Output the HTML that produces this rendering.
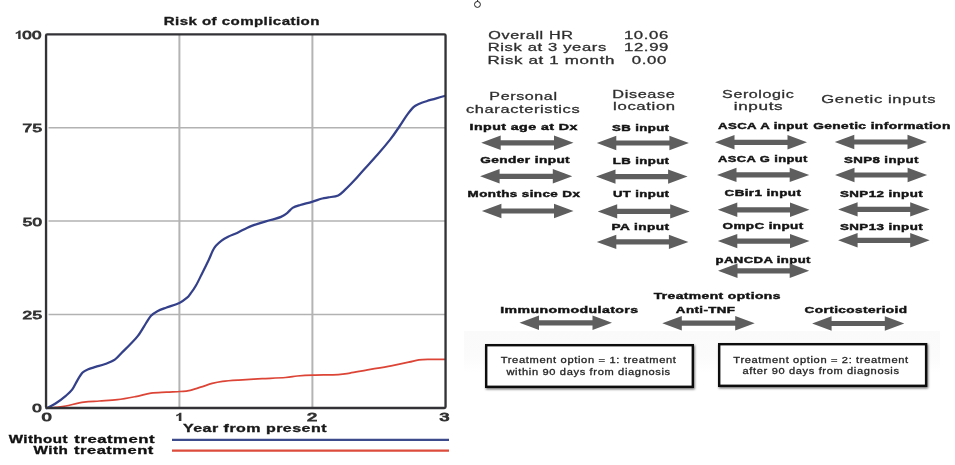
<!DOCTYPE html>
<html><head><meta charset="utf-8"><title>Risk of complication</title>
<style>
html,body{margin:0;padding:0;background:#fff;}
body{width:955px;height:465px;overflow:hidden;font-family:"Liberation Sans",sans-serif;}
svg{display:block;filter:blur(0.5px);font-family:"Liberation Sans",sans-serif;}
</style></head><body>
<svg width="955" height="465" viewBox="0 0 955 465">
<defs>
<linearGradient id="band" x1="0" y1="0" x2="0" y2="1"><stop offset="0" stop-color="#fafafa"/><stop offset="0.6" stop-color="#fbfbfb"/><stop offset="1" stop-color="#ffffff"/></linearGradient>
<filter id="sh" x="-5%" y="-15%" width="112%" height="135%"><feDropShadow dx="0.8" dy="1.3" stdDeviation="1.1" flood-color="#000" flood-opacity="0.6"/></filter>
</defs>
<rect width="955" height="465" fill="#fff"/>
<rect x="464" y="331" width="476" height="42" fill="url(#band)"/>
<line x1="179.4" y1="34.4" x2="179.4" y2="408" stroke="#b4b4b4" stroke-width="2"/>
<line x1="312.4" y1="34.4" x2="312.4" y2="408" stroke="#b4b4b4" stroke-width="2"/>
<line x1="48.5" y1="127.7" x2="445" y2="127.7" stroke="#b2b2b2" stroke-width="1.5"/>
<line x1="48.5" y1="221.0" x2="445" y2="221.0" stroke="#b2b2b2" stroke-width="1.5"/>
<line x1="48.5" y1="314.5" x2="445" y2="314.5" stroke="#b2b2b2" stroke-width="1.5"/>
<path d="M47.0,408.2 C48.5,408.1 52.9,407.7 56.0,407.3 C59.1,406.9 61.1,406.9 65.8,406.0 C70.5,405.1 78.3,402.9 83.9,402.1 C89.5,401.3 93.8,401.4 99.4,401.0 C105.0,400.6 111.4,400.4 117.4,399.7 C123.4,399.0 129.9,397.7 135.5,396.6 C141.1,395.5 145.8,393.9 151.0,393.2 C156.2,392.5 161.7,392.5 166.5,392.2 C171.3,391.9 176.3,391.8 180.0,391.5 C183.7,391.2 185.4,391.4 188.8,390.7 C192.2,390.0 196.6,388.4 200.5,387.2 C204.4,386.0 208.5,384.4 212.2,383.4 C215.9,382.4 218.1,381.9 222.5,381.3 C226.9,380.8 232.0,380.5 238.6,380.1 C245.2,379.7 254.3,379.1 262.1,378.7 C269.9,378.3 279.6,377.9 285.5,377.5 C291.4,377.1 292.7,376.4 297.3,376.0 C301.9,375.6 306.6,375.3 313.4,375.1 C320.2,374.9 332.2,374.9 338.3,374.6 C344.4,374.3 345.1,373.9 350.0,373.1 C354.9,372.3 360.8,371.1 367.6,369.9 C374.5,368.7 384.2,367.1 391.1,365.8 C398.0,364.5 404.1,363.2 408.7,362.2 C413.3,361.2 415.5,360.4 418.9,359.9 C422.3,359.4 424.8,359.4 429.2,359.3 C433.6,359.2 442.4,359.3 445.0,359.3" fill="none" stroke="#dc4436" stroke-width="1.75" stroke-linejoin="round" stroke-linecap="round"/>
<path d="M46.5,408.3 C48.0,407.5 52.3,405.6 55.5,403.5 C58.7,401.4 63.0,398.2 65.8,395.8 C68.6,393.4 70.4,392.0 72.3,389.4 C74.2,386.8 75.7,383.1 77.4,380.3 C79.1,377.5 80.9,374.4 82.6,372.6 C84.3,370.8 85.5,370.4 87.7,369.5 C89.9,368.6 92.7,367.8 95.5,366.9 C98.3,366.0 101.3,365.5 104.5,364.3 C107.7,363.1 111.8,361.8 114.8,359.7 C117.8,357.6 120.0,354.5 122.6,351.9 C125.2,349.3 127.7,346.9 130.3,344.2 C132.9,341.5 135.5,339.1 138.1,335.6 C140.7,332.2 143.7,326.8 145.8,323.5 C148.0,320.2 149.1,317.9 151.0,315.8 C152.9,313.8 154.8,312.6 157.4,311.2 C160.0,309.8 162.8,308.9 166.5,307.5 C170.2,306.1 176.0,304.5 179.4,302.9 C182.8,301.3 185.2,299.3 187.1,297.7 C189.0,296.1 189.1,295.5 190.6,293.5 C192.1,291.5 193.9,289.2 195.8,285.8 C197.8,282.4 200.2,277.2 202.3,272.9 C204.5,268.6 207.0,263.6 208.7,260.0 C210.4,256.4 211.4,253.4 212.6,251.0 C213.8,248.6 214.4,247.5 215.9,245.8 C217.4,244.1 219.6,242.1 221.6,240.6 C223.6,239.1 225.5,238.1 228.1,236.8 C230.7,235.5 233.9,234.4 237.1,232.9 C240.3,231.4 244.0,229.2 247.4,227.7 C250.8,226.2 253.8,225.2 257.7,223.9 C261.6,222.6 266.7,221.2 270.6,220.0 C274.5,218.8 278.2,218.1 281.0,216.9 C283.8,215.7 285.5,214.3 287.4,212.8 C289.3,211.3 290.5,209.2 292.6,207.9 C294.8,206.6 297.1,206.0 300.3,205.0 C303.5,204.0 308.2,203.0 311.9,201.9 C315.6,200.8 319.6,199.2 322.3,198.5 C325.1,197.8 325.8,197.9 328.4,197.4 C331.0,196.9 335.4,196.7 338.2,195.4 C341.0,194.1 342.5,192.2 345.2,189.7 C347.9,187.2 351.0,184.0 354.2,180.6 C357.4,177.2 360.6,173.3 364.5,169.0 C368.4,164.7 373.1,159.7 377.4,154.8 C381.7,149.9 386.6,144.1 390.3,139.4 C394.0,134.7 396.6,130.6 399.4,126.5 C402.2,122.4 404.8,118.0 407.1,114.8 C409.5,111.6 411.6,108.9 413.5,107.1 C415.4,105.3 416.5,105.0 418.7,104.0 C420.9,103.0 423.7,102.1 426.5,101.2 C429.3,100.3 432.5,99.5 435.5,98.6 C438.5,97.7 443.0,96.4 444.5,96.0" fill="none" stroke="#34418a" stroke-width="2.25" stroke-linejoin="round" stroke-linecap="round"/>
<rect x="46.05" y="34.4" width="399.5" height="373.6" rx="1.2" fill="none" stroke="#333337" stroke-width="2.35"/>
<text x="163.77" y="24.9" font-size="10.6" font-weight="bold" fill="#1a1a1a" textLength="156.10" lengthAdjust="spacingAndGlyphs" stroke="#1a1a1a" stroke-width="0.3" letter-spacing="0.3">Risk of complication</text>
<path d="M20.60,39.10 V30.50 H18.92 C18.20,31.53 17.17,32.22 15.70,32.56 V34.11 C17.66,33.77 18.10,33.08 18.20,32.56 V39.10 Z" fill="#333"/>
<text x="22.26" y="38.7" font-size="11" font-weight="normal" fill="#333" textLength="19.43" lengthAdjust="spacingAndGlyphs" stroke="#333" stroke-width="0.8" letter-spacing="0.2">00</text>
<text x="22.49" y="132.2" font-size="11" font-weight="normal" fill="#333" textLength="19.81" lengthAdjust="spacingAndGlyphs" stroke="#333" stroke-width="0.8" letter-spacing="0.2">75</text>
<text x="22.67" y="225.6" font-size="11" font-weight="normal" fill="#333" textLength="19.52" lengthAdjust="spacingAndGlyphs" stroke="#333" stroke-width="0.8" letter-spacing="0.2">50</text>
<text x="22.49" y="319.0" font-size="11" font-weight="normal" fill="#333" textLength="19.81" lengthAdjust="spacingAndGlyphs" stroke="#333" stroke-width="0.8" letter-spacing="0.2">25</text>
<text x="32.36" y="412.3" font-size="10.6" font-weight="normal" fill="#333" textLength="9.72" lengthAdjust="spacingAndGlyphs" stroke="#333" stroke-width="0.8" letter-spacing="0.2">0</text>
<text x="41.73" y="421.2" font-size="10.4" font-weight="normal" fill="#333" textLength="10.20" lengthAdjust="spacingAndGlyphs" stroke="#333" stroke-width="0.9" letter-spacing="0.2">0</text>
<path d="M181.40,421.10 V412.80 H179.58 C178.80,413.80 177.76,414.46 176.20,414.79 V416.29 C178.28,415.95 178.70,415.29 178.80,414.79 V421.10 Z" fill="#333"/>
<text x="306.94" y="421.2" font-size="10.4" font-weight="normal" fill="#333" textLength="10.51" lengthAdjust="spacingAndGlyphs" stroke="#333" stroke-width="0.9" letter-spacing="0.2">2</text>
<text x="439.63" y="421.2" font-size="10.4" font-weight="normal" fill="#333" textLength="10.19" lengthAdjust="spacingAndGlyphs" stroke="#333" stroke-width="0.9" letter-spacing="0.2">3</text>
<text x="183.01" y="431.6" font-size="10.4" font-weight="bold" fill="#1a1a1a" textLength="144.02" lengthAdjust="spacingAndGlyphs" stroke="#1a1a1a" stroke-width="0.3" letter-spacing="0.3">Year from present</text>
<text x="8.65" y="443.3" font-size="10.2" font-weight="bold" fill="#111" textLength="59.32" lengthAdjust="spacingAndGlyphs" stroke="#111" stroke-width="0.3" letter-spacing="0.3">Without</text>
<text x="74.38" y="443.3" font-size="10.2" font-weight="bold" fill="#111" textLength="80.66" lengthAdjust="spacingAndGlyphs" stroke="#111" stroke-width="0.3" letter-spacing="0.3">treatment</text>
<text x="33.55" y="454.2" font-size="10.2" font-weight="bold" fill="#111" textLength="34.59" lengthAdjust="spacingAndGlyphs" stroke="#111" stroke-width="0.3" letter-spacing="0.3">With</text>
<text x="74.08" y="454.2" font-size="10.2" font-weight="bold" fill="#111" textLength="79.75" lengthAdjust="spacingAndGlyphs" stroke="#111" stroke-width="0.3" letter-spacing="0.3">treatment</text>
<line x1="172" y1="439.8" x2="449" y2="439.8" stroke="#3d4a8c" stroke-width="2.2"/>
<line x1="172" y1="450.6" x2="449" y2="450.6" stroke="#dc4b3b" stroke-width="2.2"/>
<circle cx="477.45" cy="4.45" r="2.95" fill="none" stroke="#111" stroke-width="0.95"/>
<line x1="477.6" y1="-1" x2="477.6" y2="1.6" stroke="#111" stroke-width="0.95"/>
<text x="488.27" y="38.7" font-size="11.7" font-weight="normal" fill="#2e2e2e" textLength="85.27" lengthAdjust="spacingAndGlyphs" stroke="#2e2e2e" stroke-width="0.3" letter-spacing="0.45">Overall HR</text>
<text x="623.95" y="38.7" font-size="11.7" font-weight="normal" fill="#2e2e2e" textLength="45.00" lengthAdjust="spacingAndGlyphs" stroke="#2e2e2e" stroke-width="0.3" letter-spacing="0.45">10.06</text>
<text x="487.67" y="51.0" font-size="11.7" font-weight="normal" fill="#2e2e2e" textLength="119.22" lengthAdjust="spacingAndGlyphs" stroke="#2e2e2e" stroke-width="0.3" letter-spacing="0.45">Risk at 3 years</text>
<text x="623.94" y="51.0" font-size="11.7" font-weight="normal" fill="#2e2e2e" textLength="45.09" lengthAdjust="spacingAndGlyphs" stroke="#2e2e2e" stroke-width="0.3" letter-spacing="0.45">12.99</text>
<text x="487.64" y="63.5" font-size="11.7" font-weight="normal" fill="#2e2e2e" textLength="127.46" lengthAdjust="spacingAndGlyphs" stroke="#2e2e2e" stroke-width="0.3" letter-spacing="0.45">Risk at 1 month</text>
<text x="631.81" y="63.5" font-size="11.7" font-weight="normal" fill="#2e2e2e" textLength="35.24" lengthAdjust="spacingAndGlyphs" stroke="#2e2e2e" stroke-width="0.3" letter-spacing="0.45">0.00</text>
<text x="489.32" y="100.1" font-size="11.7" font-weight="normal" fill="#2e2e2e" textLength="68.28" lengthAdjust="spacingAndGlyphs" stroke="#2e2e2e" stroke-width="0.3" letter-spacing="0.45">Personal</text>
<text x="465.94" y="112.8" font-size="11.7" font-weight="normal" fill="#2e2e2e" textLength="114.38" lengthAdjust="spacingAndGlyphs" stroke="#2e2e2e" stroke-width="0.3" letter-spacing="0.45">characteristics</text>
<text x="612.30" y="98.1" font-size="11.7" font-weight="normal" fill="#2e2e2e" textLength="63.12" lengthAdjust="spacingAndGlyphs" stroke="#2e2e2e" stroke-width="0.3" letter-spacing="0.45">Disease</text>
<text x="613.12" y="110.4" font-size="11.7" font-weight="normal" fill="#2e2e2e" textLength="62.66" lengthAdjust="spacingAndGlyphs" stroke="#2e2e2e" stroke-width="0.3" letter-spacing="0.45">location</text>
<text x="722.08" y="98.2" font-size="11.7" font-weight="normal" fill="#2e2e2e" textLength="72.32" lengthAdjust="spacingAndGlyphs" stroke="#2e2e2e" stroke-width="0.3" letter-spacing="0.45">Serologic</text>
<text x="733.69" y="110.2" font-size="11.7" font-weight="normal" fill="#2e2e2e" textLength="49.65" lengthAdjust="spacingAndGlyphs" stroke="#2e2e2e" stroke-width="0.3" letter-spacing="0.45">inputs</text>
<text x="821.27" y="102.7" font-size="11.7" font-weight="normal" fill="#2e2e2e" textLength="114.81" lengthAdjust="spacingAndGlyphs" stroke="#2e2e2e" stroke-width="0.3" letter-spacing="0.45">Genetic inputs</text>
<text x="469.58" y="129.8" font-size="9.9" font-weight="bold" fill="#141414" textLength="108.16" lengthAdjust="spacingAndGlyphs" stroke="#141414" stroke-width="0.45" letter-spacing="0.3">Input age at Dx</text>
<path d="M481.2,142.8 L500.7,135.6 L500.7,140.2 L554.0,140.2 L554.0,135.6 L573.5,142.8 L554.0,150.0 L554.0,145.4 L500.7,145.4 L500.7,150.0 Z" fill="#5e5e5e"/>
<text x="480.25" y="162.8" font-size="9.9" font-weight="bold" fill="#141414" textLength="89.83" lengthAdjust="spacingAndGlyphs" stroke="#141414" stroke-width="0.45" letter-spacing="0.3">Gender input</text>
<path d="M480.1,176.3 L499.6,169.1 L499.6,173.7 L552.8,173.7 L552.8,169.1 L572.3,176.3 L552.8,183.5 L552.8,178.9 L499.6,178.9 L499.6,183.5 Z" fill="#5e5e5e"/>
<text x="467.63" y="196.8" font-size="9.9" font-weight="bold" fill="#141414" textLength="112.66" lengthAdjust="spacingAndGlyphs" stroke="#141414" stroke-width="0.45" letter-spacing="0.3">Months since Dx</text>
<path d="M481.9,211.0 L501.4,203.8 L501.4,208.4 L554.0,208.4 L554.0,203.8 L573.5,211.0 L554.0,218.2 L554.0,213.6 L501.4,213.6 L501.4,218.2 Z" fill="#5e5e5e"/>
<text x="612.11" y="130.6" font-size="9.9" font-weight="bold" fill="#141414" textLength="57.30" lengthAdjust="spacingAndGlyphs" stroke="#141414" stroke-width="0.45" letter-spacing="0.3">SB input</text>
<path d="M596.8,143.0 L616.3,135.8 L616.3,140.4 L669.4,140.4 L669.4,135.8 L688.9,143.0 L669.4,150.2 L669.4,145.6 L616.3,145.6 L616.3,150.2 Z" fill="#5e5e5e"/>
<text x="612.84" y="163.7" font-size="9.9" font-weight="bold" fill="#141414" textLength="56.54" lengthAdjust="spacingAndGlyphs" stroke="#141414" stroke-width="0.45" letter-spacing="0.3">LB input</text>
<path d="M596.0,176.6 L615.5,169.4 L615.5,174.0 L668.1,174.0 L668.1,169.4 L687.6,176.6 L668.1,183.8 L668.1,179.2 L615.5,179.2 L615.5,183.8 Z" fill="#5e5e5e"/>
<text x="612.91" y="197.0" font-size="9.9" font-weight="bold" fill="#141414" textLength="56.47" lengthAdjust="spacingAndGlyphs" stroke="#141414" stroke-width="0.45" letter-spacing="0.3">UT input</text>
<path d="M597.7,211.4 L617.2,204.2 L617.2,208.8 L670.2,208.8 L670.2,204.2 L689.7,211.4 L670.2,218.6 L670.2,214.0 L617.2,214.0 L617.2,218.6 Z" fill="#5e5e5e"/>
<text x="611.61" y="230.3" font-size="9.9" font-weight="bold" fill="#141414" textLength="57.79" lengthAdjust="spacingAndGlyphs" stroke="#141414" stroke-width="0.45" letter-spacing="0.3">PA input</text>
<path d="M596.8,241.9 L616.3,234.7 L616.3,239.3 L668.9,239.3 L668.9,234.7 L688.4,241.9 L668.9,249.1 L668.9,244.5 L616.3,244.5 L616.3,249.1 Z" fill="#5e5e5e"/>
<text x="717.97" y="128.8" font-size="9.9" font-weight="bold" fill="#141414" textLength="90.01" lengthAdjust="spacingAndGlyphs" stroke="#141414" stroke-width="0.45" letter-spacing="0.3">ASCA A input</text>
<path d="M715.0,142.3 L734.5,135.1 L734.5,139.7 L787.5,139.7 L787.5,135.1 L807.0,142.3 L787.5,149.5 L787.5,144.9 L734.5,144.9 L734.5,149.5 Z" fill="#5e5e5e"/>
<text x="717.98" y="162.1" font-size="9.9" font-weight="bold" fill="#141414" textLength="89.79" lengthAdjust="spacingAndGlyphs" stroke="#141414" stroke-width="0.45" letter-spacing="0.3">ASCA G input</text>
<path d="M717.0,174.9 L736.5,167.7 L736.5,172.3 L789.7,172.3 L789.7,167.7 L809.2,174.9 L789.7,182.1 L789.7,177.5 L736.5,177.5 L736.5,182.1 Z" fill="#5e5e5e"/>
<text x="724.56" y="195.6" font-size="9.9" font-weight="bold" fill="#141414" textLength="76.73" lengthAdjust="spacingAndGlyphs" stroke="#141414" stroke-width="0.45" letter-spacing="0.3">CBir1 input</text>
<path d="M717.8,209.8 L737.3,202.6 L737.3,207.2 L790.0,207.2 L790.0,202.6 L809.5,209.8 L790.0,217.0 L790.0,212.4 L737.3,212.4 L737.3,217.0 Z" fill="#5e5e5e"/>
<text x="722.56" y="228.8" font-size="9.9" font-weight="bold" fill="#141414" textLength="81.10" lengthAdjust="spacingAndGlyphs" stroke="#141414" stroke-width="0.45" letter-spacing="0.3">OmpC input</text>
<path d="M717.8,241.1 L737.3,233.9 L737.3,238.5 L790.0,238.5 L790.0,233.9 L809.5,241.1 L790.0,248.3 L790.0,243.7 L737.3,243.7 L737.3,248.3 Z" fill="#5e5e5e"/>
<text x="715.55" y="262.7" font-size="9.9" font-weight="bold" fill="#141414" textLength="95.29" lengthAdjust="spacingAndGlyphs" stroke="#141414" stroke-width="0.45" letter-spacing="0.3">pANCDA input</text>
<path d="M718.0,270.8 L737.5,263.6 L737.5,268.2 L789.7,268.2 L789.7,263.6 L809.2,270.8 L789.7,278.0 L789.7,273.4 L737.5,273.4 L737.5,278.0 Z" fill="#5e5e5e"/>
<text x="813.15" y="128.9" font-size="9.9" font-weight="bold" fill="#141414" textLength="137.60" lengthAdjust="spacingAndGlyphs" stroke="#141414" stroke-width="0.45" letter-spacing="0.3">Genetic information</text>
<path d="M834.8,142.0 L854.3,134.8 L854.3,139.4 L907.5,139.4 L907.5,134.8 L927.0,142.0 L907.5,149.2 L907.5,144.6 L854.3,144.6 L854.3,149.2 Z" fill="#5e5e5e"/>
<text x="843.90" y="162.8" font-size="9.9" font-weight="bold" fill="#141414" textLength="74.88" lengthAdjust="spacingAndGlyphs" stroke="#141414" stroke-width="0.45" letter-spacing="0.3">SNP8 input</text>
<path d="M835.0,175.0 L854.5,167.8 L854.5,172.4 L907.6,172.4 L907.6,167.8 L927.1,175.0 L907.6,182.2 L907.6,177.6 L854.5,177.6 L854.5,182.2 Z" fill="#5e5e5e"/>
<text x="840.00" y="196.5" font-size="9.9" font-weight="bold" fill="#141414" textLength="83.10" lengthAdjust="spacingAndGlyphs" stroke="#141414" stroke-width="0.45" letter-spacing="0.3">SNP12 input</text>
<path d="M838.1,209.4 L857.6,202.2 L857.6,206.8 L910.2,206.8 L910.2,202.2 L929.7,209.4 L910.2,216.6 L910.2,212.0 L857.6,212.0 L857.6,216.6 Z" fill="#5e5e5e"/>
<text x="840.00" y="229.5" font-size="9.9" font-weight="bold" fill="#141414" textLength="83.10" lengthAdjust="spacingAndGlyphs" stroke="#141414" stroke-width="0.45" letter-spacing="0.3">SNP13 input</text>
<path d="M838.1,240.3 L857.6,233.1 L857.6,237.7 L910.2,237.7 L910.2,233.1 L929.7,240.3 L910.2,247.5 L910.2,242.9 L857.6,242.9 L857.6,247.5 Z" fill="#5e5e5e"/>
<text x="653.66" y="299.2" font-size="9.9" font-weight="bold" fill="#141414" textLength="127.15" lengthAdjust="spacingAndGlyphs" stroke="#141414" stroke-width="0.45" letter-spacing="0.3">Treatment options</text>
<text x="500.28" y="312.8" font-size="9.9" font-weight="bold" fill="#141414" textLength="138.26" lengthAdjust="spacingAndGlyphs" stroke="#141414" stroke-width="0.45" letter-spacing="0.3">Immunomodulators</text>
<path d="M519.5,322.8 L539.0,315.6 L539.0,320.2 L592.5,320.2 L592.5,315.6 L612.0,322.8 L592.5,330.0 L592.5,325.4 L539.0,325.4 L539.0,330.0 Z" fill="#5e5e5e"/>
<text x="675.87" y="312.7" font-size="9.9" font-weight="bold" fill="#141414" textLength="59.52" lengthAdjust="spacingAndGlyphs" stroke="#141414" stroke-width="0.45" letter-spacing="0.3">Anti-TNF</text>
<path d="M662.3,323.2 L681.8,316.0 L681.8,320.6 L735.2,320.6 L735.2,316.0 L754.7,323.2 L735.2,330.4 L735.2,325.8 L681.8,325.8 L681.8,330.4 Z" fill="#5e5e5e"/>
<text x="804.56" y="313.3" font-size="9.9" font-weight="bold" fill="#141414" textLength="102.97" lengthAdjust="spacingAndGlyphs" stroke="#141414" stroke-width="0.45" letter-spacing="0.3">Corticosterioid</text>
<path d="M812.1,323.5 L831.6,316.3 L831.6,320.9 L884.8,320.9 L884.8,316.3 L904.3,323.5 L884.8,330.7 L884.8,326.1 L831.6,326.1 L831.6,330.7 Z" fill="#5e5e5e"/>
<rect x="486.2" y="345.2" width="206.6" height="41.6" fill="#fff" stroke="#0a0a0a" stroke-width="2.4" filter="url(#sh)"/>
<rect x="719.2" y="344.2" width="206.89999999999995" height="41.6" fill="#fff" stroke="#0a0a0a" stroke-width="2.4" filter="url(#sh)"/>
<text x="500.68" y="363.3" font-size="9.4" font-weight="normal" fill="#262626" textLength="175.87" lengthAdjust="spacingAndGlyphs" stroke="#262626" stroke-width="0.3" letter-spacing="0.55">Treatment option = 1: treatment</text>
<text x="506.46" y="374.5" font-size="9.4" font-weight="normal" fill="#262626" textLength="164.36" lengthAdjust="spacingAndGlyphs" stroke="#262626" stroke-width="0.3" letter-spacing="0.55">within 90 days from diagnosis</text>
<text x="733.38" y="362.8" font-size="9.4" font-weight="normal" fill="#262626" textLength="175.46" lengthAdjust="spacingAndGlyphs" stroke="#262626" stroke-width="0.3" letter-spacing="0.55">Treatment option = 2: treatment</text>
<text x="742.56" y="374.0" font-size="9.4" font-weight="normal" fill="#262626" textLength="157.10" lengthAdjust="spacingAndGlyphs" stroke="#262626" stroke-width="0.3" letter-spacing="0.55">after 90 days from diagnosis</text>
</svg>
</body></html>
